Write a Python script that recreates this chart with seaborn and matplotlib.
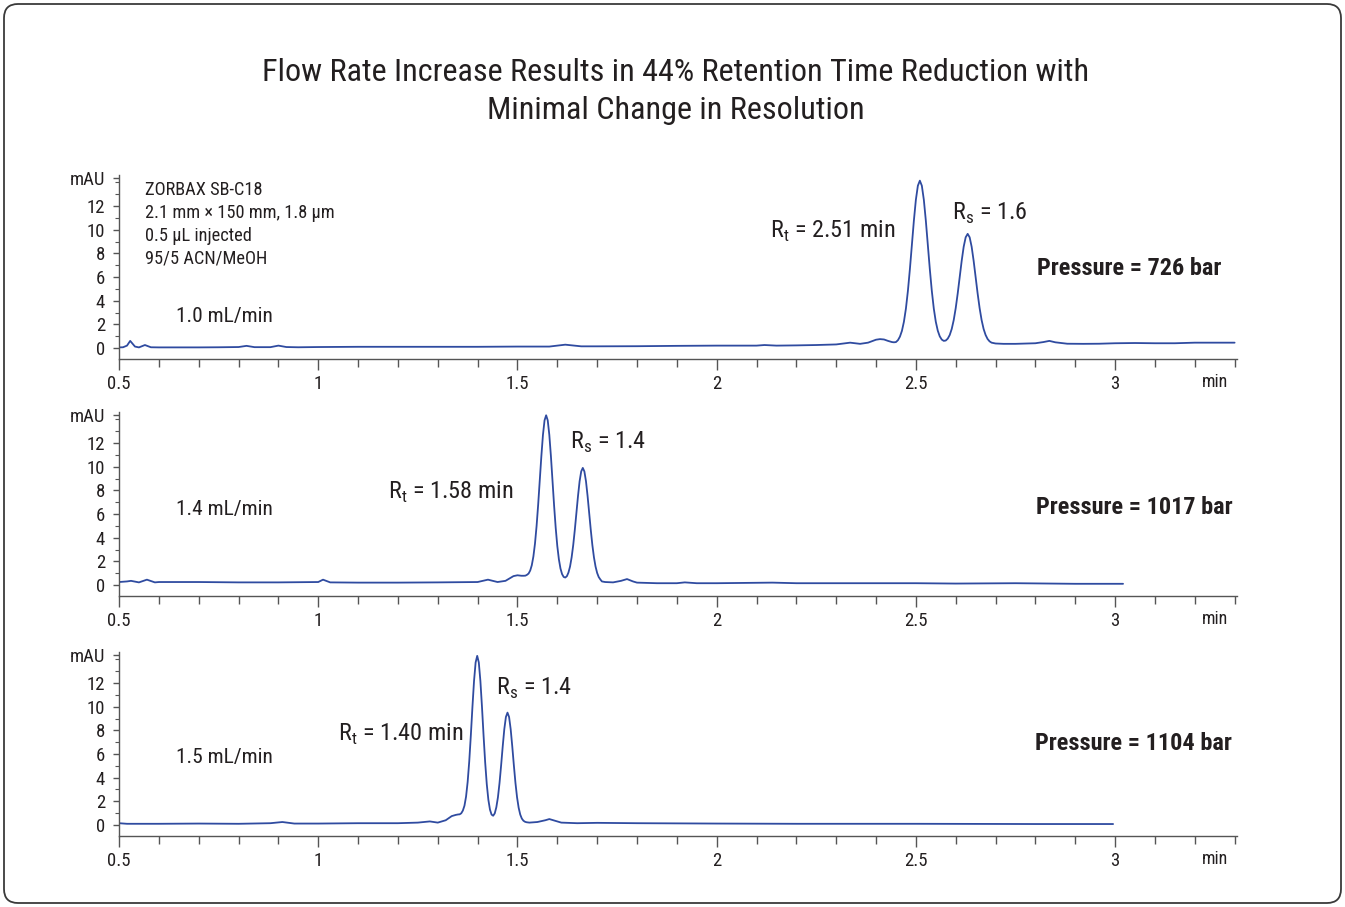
import numpy as np
import pandas as pd
import matplotlib
matplotlib.use('Agg')
import matplotlib.pyplot as plt
import matplotlib.font_manager as fm
from matplotlib.patches import FancyBboxPatch
from matplotlib.transforms import IdentityTransform
from matplotlib.ticker import MultipleLocator
import seaborn as sns

# ── Data ──────────────────────────────────────────────────────
t1 = [0.50, 0.51, 0.52, 0.528, 0.54, 0.55, 0.565, 0.58, 0.60, 0.65,
      0.70, 0.75, 0.80, 0.82, 0.84, 0.88, 0.90, 0.92, 0.95, 1.00,
      1.10, 1.20, 1.30, 1.40, 1.50, 1.58, 1.62, 1.66, 1.70, 1.80,
      1.90, 2.00, 2.10, 2.12, 2.15, 2.20, 2.25, 2.30, 2.335, 2.36,
      2.38, 2.40, 2.41, 2.42, 2.43, 2.44, 2.445, 2.45, 2.455, 2.46,
      2.465, 2.47, 2.475, 2.48, 2.485, 2.49, 2.495, 2.50, 2.505, 2.51,
      2.515, 2.52, 2.525, 2.53, 2.535, 2.54, 2.545, 2.55, 2.555, 2.56,
      2.565, 2.57, 2.575, 2.58, 2.585, 2.59, 2.595, 2.60, 2.605, 2.61,
      2.615, 2.62, 2.625, 2.63, 2.635, 2.64, 2.645, 2.65, 2.655, 2.66,
      2.665, 2.67, 2.675, 2.68, 2.685, 2.69, 2.70, 2.72, 2.75, 2.80,
      2.82, 2.835, 2.85, 2.88, 2.92, 2.96, 3.00, 3.05, 3.10, 3.15,
      3.20, 3.25, 3.30]
y1 = [0.05, 0.06, 0.2, 0.6, 0.12, 0.05, 0.25, 0.06, 0.05, 0.05,
      0.05, 0.06, 0.08, 0.18, 0.07, 0.07, 0.2, 0.08, 0.06, 0.08,
      0.1, 0.1, 0.1, 0.1, 0.12, 0.12, 0.28, 0.14, 0.14, 0.15,
      0.18, 0.2, 0.2, 0.25, 0.2, 0.22, 0.25, 0.3, 0.45, 0.35,
      0.45, 0.7, 0.75, 0.72, 0.6, 0.5, 0.48, 0.5, 0.66, 0.96,
      1.45, 2.22, 3.33, 4.83, 6.67, 8.72, 10.77, 12.53, 13.72, 14.15,
      13.72, 12.53, 10.77, 8.72, 6.67, 4.83, 3.33, 2.22, 1.46, 0.98,
      0.71, 0.60, 0.63, 0.79, 1.10, 1.61, 2.36, 3.37, 4.61, 5.99,
      7.37, 8.56, 9.36, 9.65, 9.36, 8.56, 7.37, 5.99, 4.61, 3.37,
      2.36, 1.61, 1.10, 0.76, 0.56, 0.45, 0.38, 0.35, 0.35, 0.4,
      0.5, 0.6, 0.48, 0.36, 0.35, 0.36, 0.4, 0.42, 0.4, 0.4,
      0.45, 0.45, 0.45]

t2 = [0.50, 0.52, 0.53, 0.55, 0.57, 0.59, 0.60, 0.70, 0.80, 0.90,
      1.00, 1.012, 1.03, 1.10, 1.20, 1.30, 1.40, 1.426, 1.45, 1.47,
      1.48, 1.49, 1.50, 1.51, 1.516, 1.520, 1.524, 1.528, 1.532, 1.536,
      1.540, 1.544, 1.548, 1.552, 1.556, 1.560, 1.564, 1.568, 1.572, 1.576,
      1.580, 1.584, 1.588, 1.592, 1.596, 1.600, 1.604, 1.608, 1.612, 1.616,
      1.620, 1.624, 1.628, 1.632, 1.636, 1.640, 1.644, 1.648, 1.652, 1.656,
      1.660, 1.664, 1.668, 1.672, 1.676, 1.680, 1.684, 1.688, 1.692, 1.696,
      1.700, 1.704, 1.708, 1.712, 1.720, 1.740, 1.760, 1.775, 1.790, 1.800,
      1.850, 1.900, 1.920, 1.950, 2.000, 2.140, 2.200, 2.300, 2.500, 2.600,
      2.750, 2.900, 3.000, 3.020]
y2 = [0.25, 0.3, 0.35, 0.22, 0.45, 0.22, 0.25, 0.25, 0.22, 0.22,
      0.25, 0.45, 0.22, 0.2, 0.2, 0.22, 0.25, 0.45, 0.25, 0.35,
      0.55, 0.75, 0.82, 0.78, 0.78, 0.79, 0.86, 0.97, 1.22, 1.67,
      2.41, 3.5, 4.98, 6.8, 8.85, 10.89, 12.69, 13.92, 14.35, 13.92,
      12.69, 10.89, 8.8, 6.7, 4.83, 3.3, 2.17, 1.39, 0.92, 0.68,
      0.63, 0.74, 1.05, 1.56, 2.34, 3.38, 4.67, 6.1, 7.53, 8.77,
      9.6, 9.9, 9.6, 8.77, 7.53, 6.1, 4.67, 3.38, 2.34, 1.56,
      1.02, 0.67, 0.47, 0.3, 0.25, 0.22, 0.35, 0.5, 0.3, 0.2,
      0.15, 0.15, 0.22, 0.15, 0.15, 0.2, 0.15, 0.15, 0.15, 0.12,
      0.15, 0.1, 0.1, 0.1]

t3 = [0.50, 0.52, 0.55, 0.60, 0.70, 0.80, 0.88, 0.91, 0.94, 1.00,
      1.10, 1.20, 1.25, 1.28, 1.30, 1.32, 1.335, 1.345, 1.351, 1.355,
      1.359, 1.363, 1.367, 1.371, 1.375, 1.379, 1.383, 1.387, 1.391, 1.395,
      1.399, 1.403, 1.407, 1.411, 1.415, 1.419, 1.423, 1.427, 1.431, 1.435,
      1.439, 1.443, 1.447, 1.451, 1.455, 1.459, 1.463, 1.467, 1.471, 1.475,
      1.479, 1.483, 1.487, 1.491, 1.495, 1.499, 1.503, 1.507, 1.511, 1.515,
      1.519, 1.523, 1.530, 1.550, 1.570, 1.580, 1.590, 1.610, 1.650, 1.700,
      1.800, 2.000, 2.200, 2.500, 2.800, 2.995]
y3 = [0.15, 0.1, 0.1, 0.1, 0.12, 0.1, 0.15, 0.25, 0.12, 0.12,
      0.15, 0.15, 0.2, 0.3, 0.2, 0.4, 0.75, 0.85, 0.89, 0.9,
      0.99, 1.22, 1.63, 2.4, 3.64, 5.38, 7.58, 9.97, 12.17, 13.74,
      14.3, 13.74, 12.17, 9.97, 7.53, 5.28, 3.45, 2.13, 1.30, 0.88,
      0.78, 0.98, 1.50, 2.34, 3.55, 5.04, 6.64, 8.10, 9.13, 9.5,
      9.13, 8.10, 6.64, 5.04, 3.55, 2.34, 1.46, 0.88, 0.54, 0.36,
      0.27, 0.23, 0.2, 0.25, 0.4, 0.5, 0.4, 0.2, 0.15, 0.18,
      0.15, 0.12, 0.1, 0.1, 0.08, 0.08]

flow_labels = ['1.0 mL/min', '1.4 mL/min', '1.5 mL/min']
rt_labels = ['2.51', '1.58', '1.40']
rs_labels = ['1.6', '1.4', '1.4']
pressure_labels = ['726', '1017', '1104']
column_info = ['ZORBAX SB-C18', '2.1 mm \u00d7 150 mm, 1.8 \u00b5m',
               '0.5 \u00b5L injected', '95/5 ACN/MeOH']

x_ticks = [0.5, 1, 1.5, 2, 2.5, 3]
x_ticklabels = ['0.5', '1', '1.5', '2', '2.5', '3']
y_ticks = [0, 2, 4, 6, 8, 10, 12, 14.4]
y_ticklabels = ['0', '2', '4', '6', '8', '10', '12', 'mAU']

title = ('Flow Rate Increase Results in 44% Retention Time Reduction with\n'
         'Minimal Change in Resolution')

# ── Style ─────────────────────────────────────────────────────
sns.set_style('ticks')
names = {f.name for f in fm.fontManager.ttflist}
base_font = 'Liberation Sans'
for cand in ['Roboto Condensed', 'Liberation Sans Narrow', 'Open Sans Condensed', 'Arial Narrow']:
    if cand in names:
        base_font = cand
        break
plt.rcParams['font.family'] = [base_font, 'DejaVu Sans']
TXT = '#231f20'
LINE = '#2f4ba0'
AX = '#555555'

fig = plt.figure(figsize=(13.45, 9.07), dpi=100)
fig.add_artist(FancyBboxPatch((4, 4), 1337, 899, boxstyle='round,pad=0,rounding_size=14',
                              transform=IdentityTransform(), facecolor='none',
                              edgecolor='#3a3a3a', linewidth=1.3))
fig.text(0.5025, 0.8995, title, ha='center', va='center', fontsize=23.2,
         color=TXT, linespacing=1.4)

traces = [(t1, y1), (t2, y2), (t3, y3)]
bottoms = [0.6046, 0.3433, 0.0787]

# annotation positions in data units per panel
rt_pos = [(2.448, 9.3, 'right'), (1.175, 7.3, 'left'), (1.05, 7.1, 'left')]
rs_pos = [(2.591, 10.8), (1.632, 11.55), (1.446, 11.0)]
flow_y = [2.62, 6.38, 5.68]
press_y = [6.76, 6.55, 6.86]
press_x = [3.266, 3.294, 3.294]

for i, (tt, yy) in enumerate(traces):
    ax = fig.add_axes([0.0885, bottoms[i], 0.8312, 0.2021])
    df = pd.DataFrame({'time': tt, 'signal': yy})
    sns.lineplot(data=df, x='time', y='signal', ax=ax, color=LINE, linewidth=1.3,
                 sort=False, estimator=None)
    ax.set_xlim(0.5, 3.306)
    ax.set_ylim(-0.9, 14.6)
    ax.set_xlabel('')
    ax.set_ylabel('')
    sns.despine(ax=ax)
    for s in ['left', 'bottom']:
        ax.spines[s].set_color(AX)
        ax.spines[s].set_linewidth(1.0)

    ax.set_xticks(x_ticks)
    ax.set_xticklabels(x_ticklabels)
    ax.xaxis.set_minor_locator(MultipleLocator(0.1))
    ax.set_yticks(y_ticks)
    ax.set_yticklabels(y_ticklabels)
    ax.yaxis.set_minor_locator(MultipleLocator(1))
    ax.tick_params(axis='x', which='major', length=8, width=1, color=AX, pad=4,
                   labelsize=13.5, labelcolor=TXT)
    ax.tick_params(axis='x', which='minor', length=6, width=1, color=AX)
    ax.tick_params(axis='y', which='major', length=4, width=1, color=AX, pad=6,
                   labelsize=13.5, labelcolor=TXT)
    ax.tick_params(axis='y', which='minor', length=3, width=0.8, color=AX)

    ax.text(3.251, -0.13, 'min', transform=ax.get_xaxis_transform(), ha='center',
            va='center', fontsize=13, color=TXT)

    ax.text(0.643, flow_y[i], flow_labels[i], ha='left', va='center', fontsize=15.4, color=TXT)
    rx, ry, rha = rt_pos[i]
    ax.text(rx, ry, 'R$_\\mathregular{t}$ = ' + rt_labels[i] + ' min', ha=rha, va='baseline',
            fontsize=17.5, color=TXT)
    sx, sy = rs_pos[i]
    ax.text(sx, sy, 'R$_\\mathregular{s}$ = ' + rs_labels[i], ha='left', va='baseline',
            fontsize=17.5, color=TXT)
    ax.text(press_x[i], press_y[i], 'Pressure = ' + pressure_labels[i] + ' bar', ha='right',
            va='center', fontsize=17.5, fontweight='bold', color=TXT)

    if i == 0:
        for k, line in enumerate(column_info):
            ax.text(0.565, 13.36 - k * 1.93, line, ha='left', va='center',
                    fontsize=13.2, color=TXT)

fig.savefig('out.png', dpi=100)
